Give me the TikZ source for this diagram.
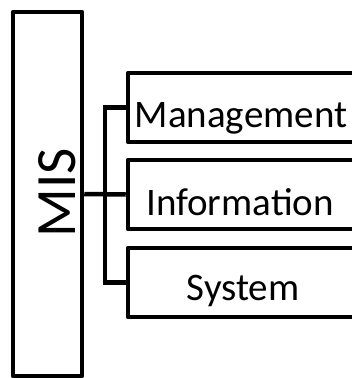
\documentclass[tikz,border=0pt]{standalone}
\usepackage{fontspec}
\setmainfont{Carlito}
\begin{document}
\begin{tikzpicture}[x=1pt,y=-1pt,
  frame/.style={draw=black,line width=4.5pt,line join=round,rectangle,inner sep=0pt},
  branchbox/.style={frame,minimum width=242pt,minimum height=69pt},
  label/.style={inner sep=0pt,anchor=base,font=\fontsize{39}{39}\selectfont},
  wire/.style={draw=black,line width=4.5pt}]
  \useasboundingbox (0,0) rectangle (352,378);
  \clip (0,0) rectangle (352,378);
  \fill[white] (0,0) rectangle (352,378);

  % tall box holding the acronym
  \node[frame,minimum width=69pt,minimum height=364pt] (mis) at (47.5,194) {};
  \node[inner sep=0pt,anchor=base,rotate=90,font=\fontsize{57}{57}\selectfont]
    (mistext) at (75,193) {MIS};

  % the three expanded words
  \node[branchbox] (m) at (249,107.5) {};
  \node[branchbox] (i) at (249,194.5) {};
  \node[branchbox] (s) at (249,282.5) {};
  \node[label] (mt) at (241,127) {Management};
  \node[label] (it) at (240,215) {Information};
  \node[label] (st) at (243,300) {System};

  % connectors
  \coordinate (j) at (105,194);
  \draw[wire] (mis.east) -- (i.west);
  \draw[wire] (m.west) -| (j) |- (s.west);
\end{tikzpicture}
\end{document}
